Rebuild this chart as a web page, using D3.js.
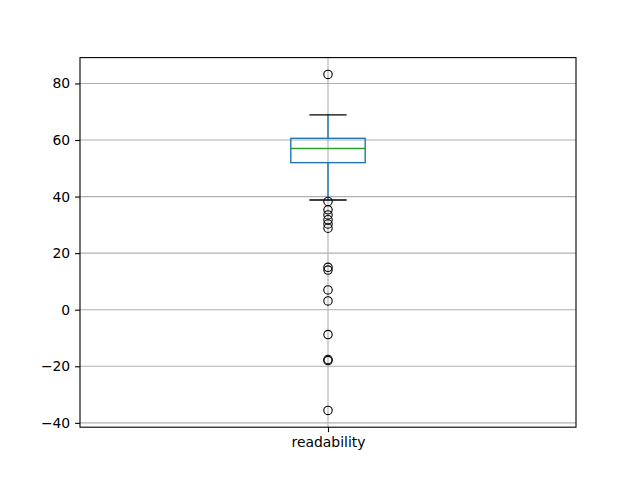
<!DOCTYPE html>
<html>
<head>
<meta charset="utf-8">
<script src="https://cdn.jsdelivr.net/npm/d3@7"></script>
<style>
  body { margin: 0; background: #fff; }
  svg text { font-family: "DejaVu Sans", sans-serif; font-size: 13.9px; fill: #000; }
</style>
</head>
<body>
<script>
// values
const categories = ['readability'];
const boxStats = [{ whiskerLow: 38.8, q1: 52, median: 57, q3: 60.6, whiskerHigh: 68.9 }];
const outliers = [83.2, 38.3, 35.3, 33.5, 31.8, 30.3, 28.8, 15.0, 14.0, 7.0, 3.1, -8.8, -17.6, -18.0, -35.6];
const yTicks = [-40, -20, 0, 20, 40, 60, 80];

const width = 640;
const height = 480;
const margin = { top: 57.6, right: 64, bottom: 52.8, left: 80 };

const svg = d3.select('body').append('svg')
  .attr('width', width)
  .attr('height', height);

// matplotlib style 5% padding around the data extent
const lo = d3.min(outliers.concat([boxStats[0].whiskerLow]));
const hi = d3.max(outliers.concat([boxStats[0].whiskerHigh]));
const pad = (hi - lo) * 0.05;

const x = d3.scaleLinear().domain([0.5, 1.5]).range([margin.left, width - margin.right]);
const y = d3.scaleLinear().domain([lo - pad, hi + pad]).range([height - margin.bottom, margin.top]);

const pos = categories.map((c, i) => i + 1);

// grid
const grid = svg.append('g').attr('stroke', '#b0b0b0').attr('stroke-width', 1.1);
grid.selectAll('.hg').data(yTicks).enter().append('line')
  .attr('x1', margin.left).attr('x2', width - margin.right)
  .attr('y1', d => y(d)).attr('y2', d => y(d));
grid.selectAll('.vg').data(pos).enter().append('line')
  .attr('x1', d => x(d)).attr('x2', d => x(d))
  .attr('y1', margin.top).attr('y2', height - margin.bottom);

// boxes
const box = svg.append('g').selectAll('g').data(boxStats).enter().append('g');
const bw = 0.15;
box.append('line')
  .attr('x1', (d, i) => x(pos[i])).attr('x2', (d, i) => x(pos[i]))
  .attr('y1', d => y(d.q3)).attr('y2', d => y(d.whiskerHigh))
  .attr('stroke', '#1f77b4').attr('stroke-width', 1.4);
box.append('line')
  .attr('x1', (d, i) => x(pos[i])).attr('x2', (d, i) => x(pos[i]))
  .attr('y1', d => y(d.q1)).attr('y2', d => y(d.whiskerLow))
  .attr('stroke', '#1f77b4').attr('stroke-width', 1.4);
box.append('rect')
  .attr('x', (d, i) => x(pos[i] - bw / 2))
  .attr('width', (d, i) => x(pos[i] + bw / 2) - x(pos[i] - bw / 2))
  .attr('y', d => y(d.q3))
  .attr('height', d => y(d.q1) - y(d.q3))
  .attr('fill', 'none').attr('stroke', '#1f77b4').attr('stroke-width', 1.4);
box.append('line')
  .attr('x1', (d, i) => x(pos[i] - bw / 2)).attr('x2', (d, i) => x(pos[i] + bw / 2))
  .attr('y1', d => y(d.median)).attr('y2', d => y(d.median))
  .attr('stroke', '#2ca02c').attr('stroke-width', 1.4);
['whiskerHigh', 'whiskerLow'].forEach(k => {
  box.append('line')
    .attr('x1', (d, i) => x(pos[i] - bw / 4)).attr('x2', (d, i) => x(pos[i] + bw / 4))
    .attr('y1', d => y(d[k])).attr('y2', d => y(d[k]))
    .attr('stroke', '#000').attr('stroke-width', 1.4);
});

// fliers
svg.append('g').selectAll('circle').data(outliers).enter().append('circle')
  .attr('cx', x(pos[0]))
  .attr('cy', d => y(d))
  .attr('r', 4.2)
  .attr('fill', 'none').attr('stroke', '#000').attr('stroke-width', 1.1);

// axes
const fmt = d => (d < 0 ? '\u2212' + Math.abs(d) : '' + d);
const yAxis = svg.append('g')
  .attr('transform', `translate(${margin.left},0)`)
  .call(d3.axisLeft(y).tickValues(yTicks).tickFormat(fmt).tickSizeInner(4.9).tickSizeOuter(0).tickPadding(4.9));
const xAxis = svg.append('g')
  .attr('transform', `translate(0,${height - margin.bottom})`)
  .call(d3.axisBottom(x).tickValues(pos).tickFormat((d, i) => categories[i]).tickSizeInner(4.9).tickSizeOuter(0).tickPadding(4.9));
[xAxis, yAxis].forEach(a => {
  a.select('.domain').remove();
  a.selectAll('line').attr('stroke', '#000').attr('stroke-width', 1.1);
  a.selectAll('text').attr('font-size', null).attr('font-family', null);
});

// frame
svg.append('rect')
  .attr('x', margin.left).attr('y', margin.top)
  .attr('width', width - margin.left - margin.right)
  .attr('height', height - margin.top - margin.bottom)
  .attr('fill', 'none').attr('stroke', '#000').attr('stroke-width', 1.1);
</script>
</body>
</html>
